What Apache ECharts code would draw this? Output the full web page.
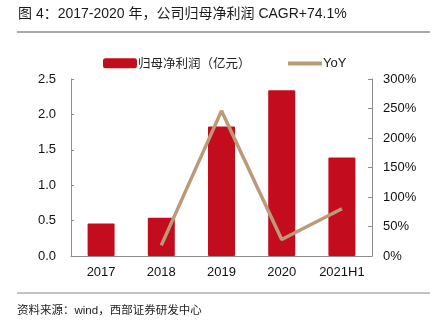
<!DOCTYPE html>
<html>
<head>
<meta charset="utf-8">
<script src="https://cdn.jsdelivr.net/npm/echarts@6/dist/echarts.min.js"></script>
<style>
  html, body { margin: 0; padding: 0; background: #fff; }
  #chart { width: 438px; height: 324px; }
</style>
</head>
<body>
<div id="chart"></div>
<script>
// Net profit attributable to parent (100m CNY) and its year-over-year growth
const categories = ['2017', '2018', '2019', '2020', '2021H1'];
const profit = [0.46, 0.54, 1.83, 2.34, 1.39];
const yoy = [null, 18, 246, 28, 80];
const leftTicks = [0, 0.5, 1.0, 1.5, 2.0, 2.5];
const rightTicks = [0, 50, 100, 150, 200, 250, 300];

const titleText = '图 4：2017-2020 年，公司归母净利润 CAGR+74.1%';
const sourceText = '资料来源：wind，西部证券研发中心';
const barName = '归母净利润（亿元）';
const lineName = 'YoY';

const RED = '#C30D1F';
const TAN = '#BC9A78';
const AXIS = '#8c8c8c';
const FONT_NUM = 'Liberation Sans, Arial, sans-serif';
const FONT_MIX = 'Liberation Sans, Noto Sans CJK SC, sans-serif';
const FONT_CJK = 'Noto Sans CJK SC, sans-serif';

const chart = echarts.init(document.getElementById('chart'), null, { renderer: 'canvas' });

chart.setOption({
  backgroundColor: '#fff',
  animation: false,
  graphic: [
    { type: 'text', left: 18, top: 7,
      style: { text: titleText, fontSize: 14, fontFamily: FONT_MIX, fill: '#1a1a1a' } },
    { type: 'line', shape: { x1: 17, y1: 32, x2: 430, y2: 32 },
      style: { stroke: '#555', lineWidth: 1 } },
    { type: 'line', shape: { x1: 17, y1: 293, x2: 430, y2: 293 },
      style: { stroke: '#888', lineWidth: 1 } },
    { type: 'text', left: 17, top: 305,
      style: { text: sourceText, fontSize: 11.5, fontFamily: FONT_MIX, fill: '#222' } }
  ],
  legend: [
    { data: [barName], left: 98, top: 52, itemWidth: 34, itemHeight: 10, icon: 'roundRect',
      textStyle: { fontSize: 12.5, fontFamily: FONT_CJK, color: '#222', padding: [0, 0, 0, -4] } },
    { data: [lineName], left: 283, top: 52, itemWidth: 34, itemHeight: 4, icon: 'rect',
      itemStyle: { color: TAN },
      textStyle: { fontSize: 13, fontFamily: FONT_NUM, color: '#222', padding: [0, 0, 0, -4] } }
  ],
  grid: { left: 71, right: 66, top: 79, bottom: 68 },
  xAxis: {
    type: 'category',
    data: categories,
    axisLine: { lineStyle: { color: AXIS } },
    axisTick: { inside: true, length: 4, lineStyle: { color: AXIS } },
    axisLabel: { fontSize: 13, fontFamily: FONT_NUM, color: '#111', margin: 10 }
  },
  yAxis: [
    {
      type: 'value', min: 0, max: 2.5, interval: 0.5,
      splitLine: { show: false },
      axisLine: { show: true, lineStyle: { color: AXIS } },
      axisTick: { show: true, inside: true, length: 3, lineStyle: { color: AXIS } },
      axisLabel: { fontSize: 13, fontFamily: FONT_NUM, color: '#111', margin: 15,
        formatter: v => leftTicks.includes(v) ? v.toFixed(1) : '' }
    },
    {
      type: 'value', min: 0, max: 300, interval: 50,
      splitLine: { show: false },
      axisLine: { show: true, lineStyle: { color: AXIS } },
      axisTick: { show: true, inside: true, length: 4, lineStyle: { color: AXIS } },
      axisLabel: { fontSize: 13, fontFamily: FONT_NUM, color: '#111', margin: 11,
        formatter: v => rightTicks.includes(v) ? v + '%' : '' }
    }
  ],
  series: [
    {
      name: barName, type: 'bar', data: profit, barWidth: 27,
      itemStyle: { color: RED, borderRadius: 1 }
    },
    {
      name: lineName, type: 'line', yAxisIndex: 1, data: yoy,
      symbol: 'none', connectNulls: false,
      lineStyle: { color: TAN, width: 3.5 }, itemStyle: { color: TAN }
    }
  ]
});
</script>
</body>
</html>
